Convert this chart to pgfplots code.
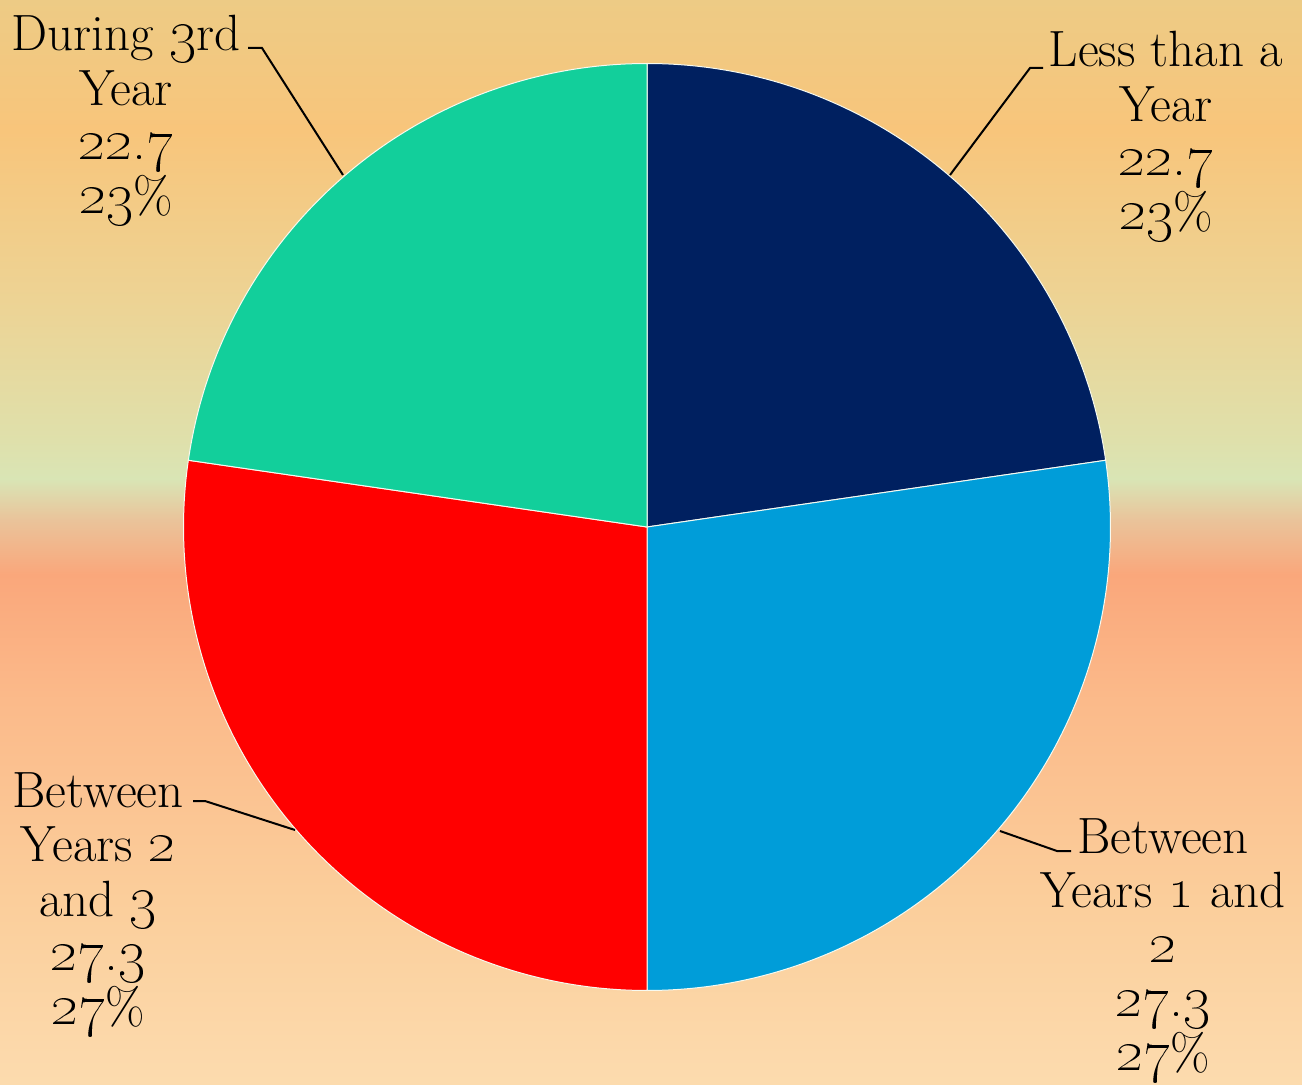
\documentclass[border=0pt]{standalone}
\usepackage{pgfplots}
\usepackage{pgfplotstable}
\pgfplotsset{compat=1.18}

\definecolor{navy}{HTML}{002060}
\definecolor{skyb}{HTML}{009DD9}
\definecolor{redd}{HTML}{FF0000}
\definecolor{mint}{HTML}{12CF9B}

\definecolor{bg0}{HTML}{EDCB85}
\definecolor{bg1}{HTML}{F8C57B}
\definecolor{bg2}{HTML}{EDD394}
\definecolor{bg3}{HTML}{DFE0AB}
\definecolor{bg4}{HTML}{D9E5B5}
\definecolor{bg5}{HTML}{EAC39A}
\definecolor{bg6}{HTML}{FAA77B}
\definecolor{bg7}{HTML}{FBBA8A}
\definecolor{bg8}{HTML}{FBCE9B}
\definecolor{bg9}{HTML}{FCDBAE}

% 0bp = bottom of picture; the picture spans 25bp..75bp
\pgfdeclareverticalshading{bgshade}{100bp}{%
  color(0bp)=(bg9); color(25bp)=(bg9); color(33.5bp)=(bg8);
  color(42.7bp)=(bg7); color(48.5bp)=(bg6); color(51bp)=(bg5);
  color(52.9bp)=(bg4); color(54.7bp)=(bg3); color(61.2bp)=(bg2);
  color(69bp)=(bg1); color(75bp)=(bg0); color(100bp)=(bg0)}

% slice values, clockwise from 12 o'clock
\pgfplotstableread{
label value
LessThanAYear 22.7
Years1and2 27.3
Years2and3 27.3
During3rd 22.7
}\pietable

\pgfplotstablegetelem{0}{value}\of\pietable\edef\vA{\pgfplotsretval}
\pgfplotstablegetelem{1}{value}\of\pietable\edef\vB{\pgfplotsretval}
\pgfplotstablegetelem{2}{value}\of\pietable\edef\vC{\pgfplotsretval}
\pgfplotstablegetelem{3}{value}\of\pietable\edef\vD{\pgfplotsretval}
\pgfmathsetmacro\tot{\vA+\vB+\vC+\vD}
\pgfmathsetmacro\aA{90}
\pgfmathsetmacro\aB{\aA-360*\vA/\tot}
\pgfmathsetmacro\aC{\aB-360*\vB/\tot}
\pgfmathsetmacro\aD{\aC-360*\vC/\tot}
\pgfmathsetmacro\aE{\aD-360*\vD/\tot}

\newcommand\R{231.75pt}
\newcommand\slice[3]{%
  \fill[#1, draw=white!80!bg4, line width=0.5pt]
    (axis cs:647,557) -- ([shift={(#2:\R)}]axis cs:647,557)
    arc[start angle=#2, end angle=#3, radius=\R] -- cycle;}
\newcommand\osn[1]{{\fontsize{29}{27.2}\selectfont\oldstylenums{#1}}}

\tikzset{lbl/.style={font=\fontsize{25.5}{27.2}\selectfont, align=center,
      inner sep=0pt, anchor=north, text=black}}

\begin{document}
\begin{tikzpicture}
\begin{axis}[
    scale only axis,
    width=651pt, height=542pt,
    xmin=0, xmax=1302, ymin=0, ymax=1084,
    hide axis,
    clip=false,
]
  \fill[shading=bgshade] (axis cs:0,0) rectangle (axis cs:1302,1084);

  \slice{navy}{\aA}{\aB}
  \slice{skyb}{\aB}{\aC}
  \slice{redd}{\aC}{\aD}
  \slice{mint}{\aD}{\aE}

  % leader lines
  \draw[line width=1pt] (axis cs:950,909) -- (axis cs:1030,1016) -- (axis cs:1043,1016);
  \draw[line width=1pt] (axis cs:343,909) -- (axis cs:262,1036) -- (axis cs:248,1036);
  \draw[line width=1pt] (axis cs:1000,253) -- (axis cs:1057,233) -- (axis cs:1071,233);
  \draw[line width=1pt] (axis cs:295,254) -- (axis cs:205,283) -- (axis cs:193,283);

  % data labels
  \node[lbl] at (axis cs:1166,1053) {Less than a\\Year\\\osn{22.7}\\\osn{23}\%};
  \node[lbl] at (axis cs:126,1069) {During \osn{3}rd\\Year\\\osn{22.7}\\\osn{23}\%};
  \node[lbl] at (axis cs:1163,266) {Between\\Years \osn{1} and\\\osn{2}\\\osn{27.3}\\\osn{27}\%};
  \node[lbl] at (axis cs:98,312) {Between\\Years \osn{2}\\and \osn{3}\\\osn{27.3}\\\osn{27}\%};
\end{axis}
\pgfresetboundingbox
\path (0,0) rectangle (651pt,542pt);
\end{tikzpicture}
\end{document}
